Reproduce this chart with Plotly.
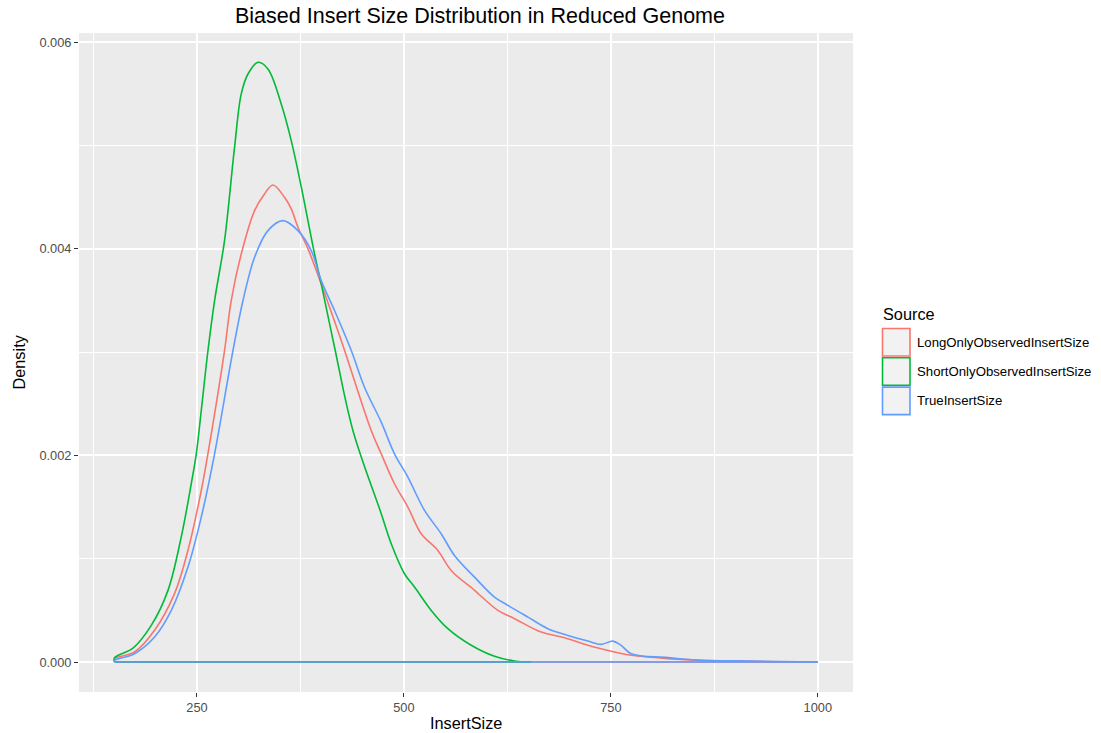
import plotly.graph_objects as go

# ---------------- data ----------------
series_names = ["LongOnlyObservedInsertSize", "ShortOnlyObservedInsertSize", "TrueInsertSize"]

long_x = [150.5, 174.6, 198.8, 222.9, 239.1, 255.2, 267.3, 283.3, 291.4, 303.5, 319.6, 331.6,
          341.8, 355.8, 363.9, 372.0, 384.1, 400.1, 424.3, 460.5, 472.6, 488.6, 504.8, 520.9,
          541.0, 557.1, 585.3, 613.5, 633.6, 665.8, 694.0, 722.2, 754.3, 774.5, 818.8, 859.0, 1000.0]
long_y = [0.000033, 0.000097, 0.000307, 0.000662, 0.001081, 0.001661, 0.002210, 0.003016,
          0.003500, 0.003952, 0.004371, 0.004532, 0.004619, 0.004499, 0.004387, 0.004209,
          0.004000, 0.003661, 0.003113, 0.002242, 0.002016, 0.001726, 0.001500, 0.001242,
          0.001081, 0.000887, 0.000694, 0.000500, 0.000420, 0.000290, 0.000236, 0.000162,
          0.000097, 0.000065, 0.000033, 0.000016, 0.0]

short_x = [150.5, 172.7, 194.8, 215.0, 231.0, 243.1, 249.2, 255.2, 263.3, 271.3, 283.3, 295.4,
           303.5, 311.6, 323.7, 335.7, 351.8, 363.9, 376.0, 392.0, 400.1, 416.2, 438.4, 472.6,
           484.7, 500.7, 512.8, 533.0, 553.1, 581.3, 609.4, 633.6, 653.7]
short_y = [0.000043, 0.000135, 0.000355, 0.000694, 0.001210, 0.001726, 0.002016, 0.002435,
           0.003016, 0.003500, 0.004080, 0.004983, 0.005500, 0.005693, 0.005806, 0.005742,
           0.005403, 0.005048, 0.004600, 0.003952, 0.003661, 0.003048, 0.002242, 0.001436,
           0.001146, 0.000855, 0.000726, 0.000500, 0.000323, 0.000162, 0.000055, 0.000010, 0.0]

true_x = [150.5, 174.6, 198.8, 219.0, 239.1, 255.2, 271.3, 293.5, 305.6, 319.6, 335.7, 353.9,
          372.0, 388.0, 400.1, 416.2, 436.4, 452.4, 472.6, 488.6, 504.8, 524.9, 545.0, 561.1,
          585.3, 609.4, 625.6, 649.8, 673.9, 698.1, 722.2, 738.3, 752.4, 762.4, 774.5, 818.8,
          859.0, 919.1, 1000.0]
true_y = [0.000016, 0.000081, 0.000242, 0.000500, 0.000919, 0.001403, 0.002016, 0.003016,
          0.003500, 0.003919, 0.004177, 0.004274, 0.004177, 0.003984, 0.003693, 0.003403,
          0.003016, 0.002661, 0.002322, 0.002016, 0.001790, 0.001468, 0.001242, 0.001032,
          0.000822, 0.000629, 0.000549, 0.000435, 0.000323, 0.000258, 0.000203, 0.000171,
          0.000203, 0.000162, 0.000081, 0.000043, 0.000016, 0.000010, 0.0]

x_ticks = [250, 500, 750, 1000]
x_tick_labels = ["250", "500", "750", "1000"]
y_ticks = [0.000, 0.002, 0.004, 0.006]
y_tick_labels = ["0.000", "0.002", "0.004", "0.006"]

title_text = "Biased Insert Size Distribution in Reduced Genome"
x_title = "InsertSize"
y_title = "Density"
legend_title = "Source"

# ---------------- styling ----------------
colors = ["#F8766D", "#00BA38", "#619CFF"]
FONT = "Liberation Sans, Arial, Helvetica, sans-serif"
W, H = 1101, 733
L, R, T, B = 79, 248, 33, 41
PW, PH = W - L - R, H - T - B


def px_to_paper(px, py):
    return (px - L) / PW, (H - B - py) / PH


fig = go.Figure()
all_series = [(long_x, long_y), (short_x, short_y), (true_x, true_y)]
for (xs, ys), name, col in zip(all_series, series_names, colors):
    # density curve (starting from the baseline)
    fig.add_trace(go.Scatter(
        x=[xs[0]] + xs, y=[0.0] + ys, mode="lines", name=name,
        line=dict(color=col, width=1.6, shape="spline", smoothing=1.0),
        showlegend=False, hoverinfo="skip"))
    # closing baseline of the density polygon
    fig.add_trace(go.Scatter(
        x=[xs[0], xs[-1]], y=[0.0, 0.0], mode="lines",
        line=dict(color=col, width=1.6), showlegend=False, hoverinfo="skip"))

axis_common = dict(
    showline=False, zeroline=False, ticks="outside", ticklen=4, tickwidth=1.1,
    tickcolor="#333333", gridcolor="#FFFFFF", gridwidth=1.8,
    tickfont=dict(family=FONT, size=12.8, color="#4D4D4D"),
)

fig.update_layout(
    width=W, height=H,
    margin=dict(l=L, r=R, t=T, b=B, autoexpand=False),
    paper_bgcolor="#FFFFFF", plot_bgcolor="#EBEBEB",
    font=dict(family=FONT, color="#000000"),
    title=dict(text=title_text, x=480 / W, xanchor="center",
               y=1 - 15 / H, yanchor="middle", font=dict(size=21.5, color="#000000")),
    xaxis=dict(range=[107.5, 1042.5], tickvals=x_ticks, ticktext=x_tick_labels,
               minor=dict(tickvals=[125, 375, 625, 875], showgrid=True,
                          gridcolor="#FFFFFF", gridwidth=0.9, ticks=""),
               **axis_common),
    yaxis=dict(range=[-0.00029, 0.00609], tickvals=y_ticks, ticktext=y_tick_labels,
               minor=dict(tickvals=[0.001, 0.003, 0.005], showgrid=True,
                          gridcolor="#FFFFFF", gridwidth=0.9, ticks=""),
               **axis_common),
    showlegend=False,
)

annotations = []
ax, ay = px_to_paper(L + PW / 2, 723)
annotations.append(dict(text=x_title, x=ax, y=ay, xref="paper", yref="paper",
                        xanchor="center", yanchor="middle", showarrow=False,
                        font=dict(family=FONT, size=16.3, color="#000000")))
ax, ay = px_to_paper(18, T + PH / 2)
annotations.append(dict(text=y_title, x=ax, y=ay, xref="paper", yref="paper",
                        xanchor="center", yanchor="middle", showarrow=False, textangle=-90,
                        font=dict(family=FONT, size=16.3, color="#000000")))

# legend (ggplot style keys)
lx, ly = px_to_paper(881, 314)
annotations.append(dict(text=legend_title, x=lx, y=ly, xref="paper", yref="paper",
                        xanchor="left", yanchor="middle", showarrow=False,
                        font=dict(family=FONT, size=16.3, color="#000000")))
shapes = []
key_top = 328.5
key_size = 27.5
key_step = 29.3
for i, (name, col) in enumerate(zip(series_names, colors)):
    top = key_top + i * key_step
    x0, y1 = px_to_paper(882.5, top)
    x1, y0 = px_to_paper(882.5 + key_size, top + key_size)
    shapes.append(dict(type="rect", xref="paper", yref="paper", x0=x0, x1=x1, y0=y0, y1=y1,
                       fillcolor="#F2F2F2", line=dict(color=col, width=1.6)))
    tx, ty = px_to_paper(915, top + key_size / 2)
    annotations.append(dict(text=name, x=tx, y=ty, xref="paper", yref="paper",
                            xanchor="left", yanchor="middle", showarrow=False,
                            font=dict(family=FONT, size=13.2, color="#000000")))

fig.update_layout(annotations=annotations, shapes=shapes)
fig.write_html("out.html")
